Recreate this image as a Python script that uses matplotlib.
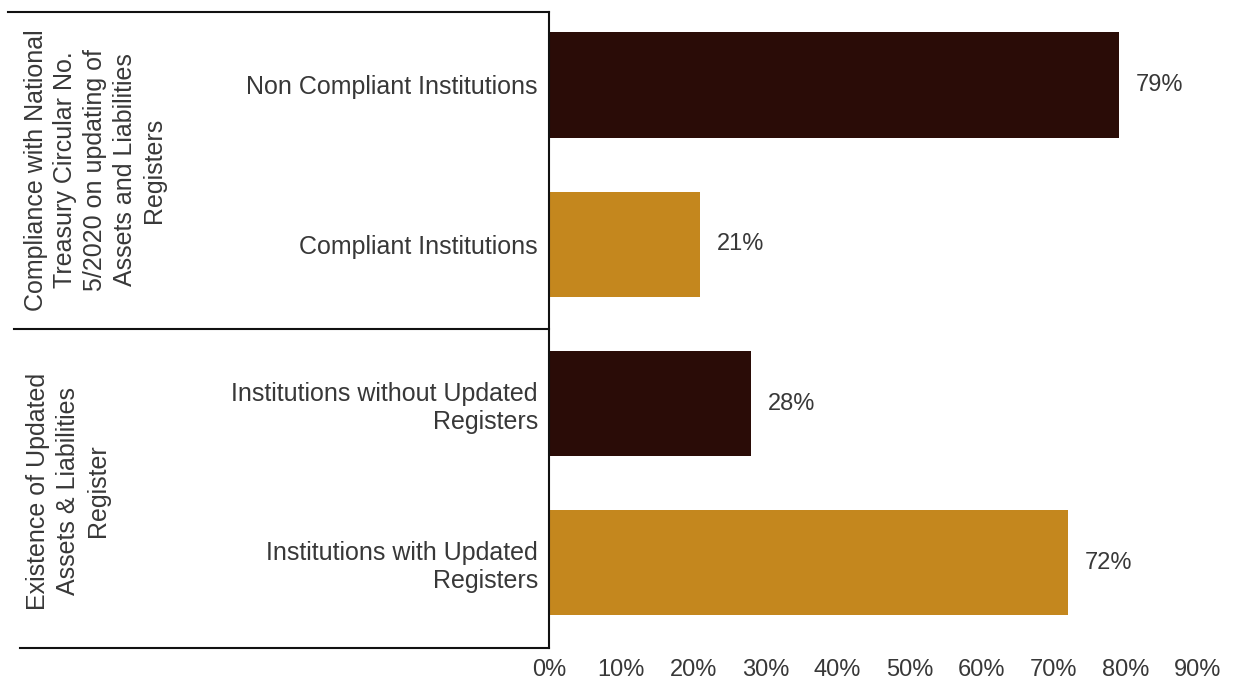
import matplotlib.pyplot as plt
from matplotlib.lines import Line2D
from matplotlib.transforms import blended_transform_factory

plt.rcParams['font.family'] = ['Liberation Sans', 'DejaVu Sans']

categories = [
    'Non Compliant Institutions',
    'Compliant Institutions',
    'Institutions without Updated\nRegisters',
    'Institutions with Updated\nRegisters',
]
values = [79, 21, 28, 72]
groups = [
    'Compliance with National\nTreasury Circular No.\n5/2020 on updating of\nAssets and Liabilities\nRegisters',
    'Existence of Updated\nAssets & Liabilities\nRegister',
]
ticks = [0, 10, 20, 30, 40, 50, 60, 70, 80, 90]

dark = '#2a0c07'
gold = '#c4871e'
colors = [dark, gold, dark, gold]
txt = '#383838'

fig = plt.figure(figsize=(12.4, 6.8), dpi=100)
ax = fig.add_axes([549 / 1240, 32 / 680, 649 / 1240, 636 / 680])

ypos = list(range(len(values)))
ax.barh(ypos, values, height=0.66, color=colors)
ax.set_xlim(0, 90)
ax.set_ylim(3.534, -0.458)

ax.set_yticks(ypos)
ax.set_yticklabels(categories, fontsize=18, color=txt, ha='right')
ax.set_xticks(ticks)
ax.set_xticklabels([f'{t}%' for t in ticks], fontsize=17, color=txt)
ax.tick_params(length=0, pad=8)
ax.tick_params(axis='x', pad=8)

for s in ['top', 'right', 'bottom']:
    ax.spines[s].set_visible(False)
ax.spines['left'].set_color('#111111')
ax.spines['left'].set_linewidth(1.5)

for y, v in zip(ypos, values):
    ax.annotate(f'{v}%', (v, y), xytext=(12, 0), textcoords='offset points',
                va='center', ha='left', fontsize=17, color=txt)

# box lines on the left, spanning from the figure edge to the axis
tr = blended_transform_factory(fig.transFigure, ax.transData)
for x0, y in [(8 / 1240, -0.458), (14 / 1240, 1.53), (20 / 1240, 3.534)]:
    fig.add_artist(Line2D([x0, 549 / 1240], [y, y], transform=tr,
                          color='#111111', lw=1.5))

fig.text(95 / 1240, 1 - 170 / 680, groups[0], rotation=90, ha='center', va='center',
         multialignment='center', fontsize=18, color=txt, linespacing=1.3)
fig.text(68 / 1240, 1 - 491 / 680, groups[1], rotation=90, ha='center', va='center',
         multialignment='center', fontsize=18, color=txt, linespacing=1.3)

fig.savefig('out.png', dpi=100, facecolor='white')
